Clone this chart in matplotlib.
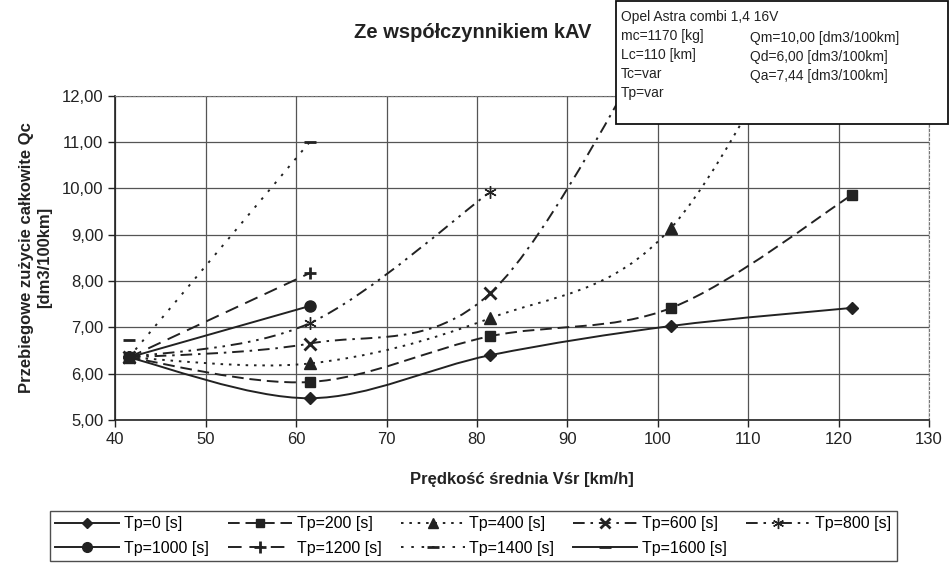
import numpy as np
import matplotlib
matplotlib.use('Agg')
import matplotlib.pyplot as plt
from matplotlib.path import Path
from matplotlib.patches import PathPatch, Rectangle
from matplotlib.lines import Line2D

plt.rcParams['font.family'] = ['Liberation Sans', 'DejaVu Sans']

nan = np.nan
# srednia predkosc [km/h]
speed = [41.5, 61.5, 81.5, 101.5, 121.5]

# Qc [dm3/100km] for each stop time Tp (values past 12 are off the chart)
tp0 = [6.35, 5.47, 6.40, 7.03, 7.42]
tp200 = [6.35, 5.82, 6.81, 7.42, 9.86]
tp400 = [6.35, 6.22, 7.20, 9.15, 15.9]
tp600 = [6.35, 6.65, 7.74, 13.9, nan]
tp800 = [6.35, 7.09, 9.93, nan, nan]
tp1000 = [6.35, 7.46, nan, nan, nan]
tp1200 = [6.35, 8.17, nan, nan, nan]
tp1400 = [6.35, 11.00, nan, nan, nan]
tp1600 = [6.72, nan, nan, nan, nan]

series = [tp0, tp200, tp400, tp600, tp800, tp1000, tp1200, tp1400, tp1600]
labels = ['Tp=0 [s]', 'Tp=200 [s]', 'Tp=400 [s]', 'Tp=600 [s]', 'Tp=800 [s]',
          'Tp=1000 [s]', 'Tp=1200 [s]', 'Tp=1400 [s]', 'Tp=1600 [s]']

info_left = ['Opel Astra combi 1,4 16V', 'mc=1170 [kg]', 'Lc=110 [km]', 'Tc=var', 'Tp=var']
info_right = ['Qm=10,00 [dm3/100km]', 'Qd=6,00 [dm3/100km]', 'Qa=7,44 [dm3/100km]']

col = '#222222'
styles = [
    dict(ls='-', marker='D', ms=6),
    dict(ls=(0, (6, 3)), marker='s', ms=7),
    dict(ls=(0, (1.3, 3)), marker='^', ms=8),
    dict(ls=(0, (6, 3, 1.3, 3)), marker='x', ms=8),
    dict(ls=(0, (6, 3, 1.3, 3, 1.3, 3)), marker=(6, 2, 0), ms=9),
    dict(ls='-', marker='o', ms=8),
    dict(ls=(0, (7, 4)), marker='+', ms=9),
    dict(ls=(0, (1.3, 4)), marker='_', ms=9),
    dict(ls='-', marker='_', ms=9),
]


def smooth_path(xs, ys):
    # excel-like smoothed line: bezier with catmull-rom control points
    pts = np.column_stack([xs, ys])
    n = len(pts)
    verts = [pts[0]]
    codes = [Path.MOVETO]
    for i in range(n - 1):
        p0 = pts[i - 1] if i > 0 else pts[i]
        p1 = pts[i]
        p2 = pts[i + 1]
        p3 = pts[i + 2] if i + 2 < n else pts[i + 1]
        verts += [p1 + (p2 - p0) / 6, p2 - (p3 - p1) / 6, p2]
        codes += [Path.CURVE4] * 3
    return Path(verts, codes)


fig = plt.figure(figsize=(9.52, 5.63), dpi=100)
ax = fig.add_axes([0.1211, 0.254, 0.8547, 0.576])

for ys, st in zip(series, styles):
    ys = np.array(ys, dtype=float)
    ok = ~np.isnan(ys)
    xs = np.array(speed)[ok]
    yv = ys[ok]
    if len(xs) > 1:
        ax.add_patch(PathPatch(smooth_path(xs, yv), fill=False, edgecolor=col,
                               lw=1.4, linestyle=st['ls'], zorder=3))
    ax.plot(xs, yv, linestyle='none', marker=st['marker'], ms=st['ms'],
            color=col, mec=col, mew=2 if st['marker'] in ('x', '+', '_') else 1,
            zorder=4)

ax.set_xlim(40, 130)
ax.set_ylim(5, 12)
ax.set_xticks(np.arange(40, 131, 10))
ax.set_yticks(np.arange(5, 12.01, 1))
ax.set_yticklabels([f'{v:.2f}'.replace('.', ',') for v in np.arange(5, 12.01, 1)])
ax.tick_params(labelsize=12, direction='out', length=5, width=1, colors='#222222')
ax.grid(True, color='#555555', lw=0.9)
ax.set_axisbelow(True)
for s in ['top', 'right']:
    ax.spines[s].set_linestyle((0, (2, 2)))
    ax.spines[s].set_color('#777777')
for s in ['left', 'bottom']:
    ax.spines[s].set_color('#222222')
    ax.spines[s].set_linewidth(1.2)

ax.set_xlabel('Prędkość średnia Vśr [km/h]', fontsize=12, fontweight='bold',
              color='#222222', labelpad=18)
fig.text(0.028, 0.542, 'Przebiegowe zużycie całkowite Qc', rotation=90, fontsize=12,
         fontweight='bold', color='#222222', ha='center', va='center')
fig.text(0.047, 0.542, '[dm3/100km]', rotation=90, fontsize=12,
         fontweight='bold', color='#222222', ha='center', va='center')

fig.text(0.497, 0.943, 'Ze współczynnikiem kAV', fontsize=14.5, fontweight='bold',
         color='#222222', ha='center', va='center')

# info box
fig.add_artist(Rectangle((0.647, 0.7797), 0.349, 0.2185, transform=fig.transFigure,
                         facecolor='white', edgecolor='#111111', lw=1.3, zorder=5))
for i, t in enumerate(info_left):
    fig.text(0.652, 1 - (17 + 19 * i) / 563, t, fontsize=10, color='#222222',
             ha='left', va='center', zorder=6)
for i, t in enumerate(info_right):
    fig.text(0.788, 1 - (38 + 19 * i) / 563, t, fontsize=10, color='#222222',
             ha='left', va='center', zorder=6)

handles = [Line2D([], [], color=col, lw=1.4, linestyle=st['ls'], marker=st['marker'],
                  ms=st['ms'] - 1, mew=2 if st['marker'] in ('x', '+', '_') else 1)
           for st in styles]
order = [0, 5, 1, 6, 2, 7, 3, 8, 4]
leg = fig.legend([handles[i] for i in order], [labels[i] for i in order], ncol=5,
                 loc='center', bbox_to_anchor=(0.497, 0.048), fontsize=11.5,
                 frameon=True, fancybox=False, edgecolor='#222222', handlelength=4,
                 handletextpad=0.3, columnspacing=1.2, borderpad=0.35, labelspacing=0.6)
leg.get_frame().set_linewidth(1.0)

fig.savefig('out.png', dpi=100)
